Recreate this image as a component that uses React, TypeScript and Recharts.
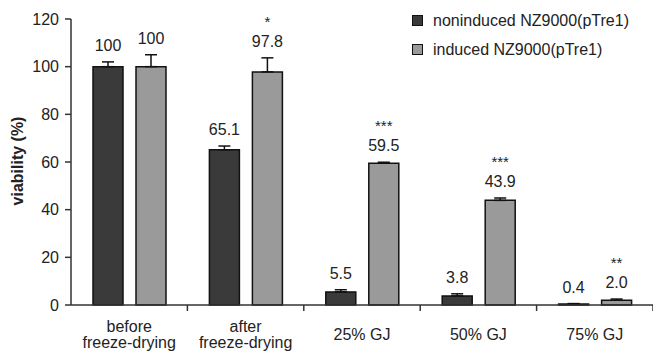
import React from "react";
import { Bar, BarChart, ErrorBar, XAxis, YAxis } from "recharts";

const categories = [
  ["before", "freeze-drying"],
  ["after", "freeze-drying"],
  ["25% GJ"],
  ["50% GJ"],
  ["75% GJ"],
];
const noninduced = [100, 65.1, 5.5, 3.8, 0.4];
const induced = [100, 97.8, 59.5, 43.9, 2.0];
const noninducedErr = [2, 1.6, 0.9, 0.9, 0.2];
const inducedErr = [5, 5.9, 0.4, 1, 0.5];
const inducedStars = ["", "*", "***", "***", "**"];
const yTicks = [0, 20, 40, 60, 80, 100, 120];
const seriesNames = ["noninduced NZ9000(pTre1)", "induced NZ9000(pTre1)"];

const DARK = "#3a3a3a";
const GREY = "#9a9a9a";
const FONT = "Arial, 'Liberation Sans', sans-serif";

const data = categories.map((c, i) => ({
  name: c.join(" "),
  lines: c,
  non: noninduced[i],
  ind: induced[i],
  nonErr: [0, noninducedErr[i]],
  indErr: [0, inducedErr[i]],
}));

function fmt(v: number) {
  return v === 100 ? "100" : v.toFixed(1);
}

function makeLabel(errs: number[], stars: string[] | null) {
  return (props: any) => {
    const { x, y, width, height, value, index } = props;
    const scale = value > 0 ? height / value : 2.38;
    const top = y - errs[index] * scale;
    const cx = x + width / 2;
    return (
      <g>
        <text x={cx} y={top - 11} textAnchor="middle" fontSize={16} fill="#222" fontFamily={FONT}>
          {fmt(value)}
        </text>
        {stars && stars[index] ? (
          <text x={cx} y={top - 31} textAnchor="middle" fontSize={15} fill="#222" fontFamily={FONT}>
            {stars[index]}
          </text>
        ) : null}
      </g>
    );
  };
}

function XTick(props: any) {
  const { x, y, payload } = props;
  const half = payload.offset || 58.2;
  const lines: string[] = data[payload.index]?.lines ?? [payload.value];
  return (
    <g>
      <line x1={x + half} x2={x + half} y1={y} y2={y + 6} stroke="#333" strokeWidth={1.5} />
      {lines.length === 2 ? (
        <>
          <text x={x} y={y + 27} textAnchor="middle" fontSize={16} fill="#222" fontFamily={FONT}>
            {lines[0]}
          </text>
          <text x={x} y={y + 43} textAnchor="middle" fontSize={16} fill="#222" fontFamily={FONT}>
            {lines[1]}
          </text>
        </>
      ) : (
        <text x={x} y={y + 35} textAnchor="middle" fontSize={16} fill="#222" fontFamily={FONT}>
          {lines[0]}
        </text>
      )}
    </g>
  );
}

function YLabel() {
  return (
    <text
      x={0}
      y={0}
      transform="translate(23 161) rotate(-90)"
      textAnchor="middle"
      fontSize={16}
      fontWeight="bold"
      fill="#222"
      fontFamily={FONT}
    >
      viability (%)
    </text>
  );
}

function LegendBox() {
  const colors = [DARK, GREY];
  return (
    <div
      style={{
        position: "absolute",
        left: 412,
        top: 6,
        fontFamily: FONT,
        fontSize: 16,
        color: "#222",
      }}
    >
      {seriesNames.map((label, i) => (
        <div key={label} style={{ display: "flex", alignItems: "center", height: 29 }}>
          <span
            style={{
              display: "inline-block",
              width: 9,
              height: 9,
              background: colors[i],
              border: "1px solid #111",
              marginRight: 10,
            }}
          />
          {label}
        </div>
      ))}
    </div>
  );
}

export default function App() {
  return (
    <div style={{ position: "absolute", left: 0, top: 0, width: 653, height: 352, background: "#fff" }}>
      <BarChart
        width={653}
        height={352}
        data={data}
        margin={{ top: 19, right: 0, bottom: 0, left: 0 }}
        barSize={30}
        barGap={13}
      >
        <XAxis
          dataKey="name"
          height={47}
          tick={<XTick />}
          tickLine={false}
          tickSize={0}
          tickMargin={0}
          interval={0}
          axisLine={{ stroke: "#333", strokeWidth: 1.5 }}
        />
        <YAxis
          width={71}
          domain={[0, 120]}
          ticks={yTicks}
          tickSize={6}
          tickMargin={6}
          tick={{ fill: "#222", fontSize: 16, fontFamily: FONT }}
          tickLine={{ stroke: "#333", strokeWidth: 1.5 }}
          axisLine={{ stroke: "#333", strokeWidth: 1.5 }}
          label={<YLabel />}
        />
        <Bar
          dataKey="non"
          name={seriesNames[0]}
          fill={DARK}
          stroke="#111"
          strokeWidth={1.5}
          isAnimationActive={false}
          label={makeLabel(noninducedErr, null)}
        >
          <ErrorBar dataKey="nonErr" width={6} stroke="#111" strokeWidth={1.5} />
        </Bar>
        <Bar
          dataKey="ind"
          name={seriesNames[1]}
          fill={GREY}
          stroke="#111"
          strokeWidth={1.5}
          isAnimationActive={false}
          label={makeLabel(inducedErr, inducedStars)}
        >
          <ErrorBar dataKey="indErr" width={6} stroke="#111" strokeWidth={1.5} />
        </Bar>
      </BarChart>
      <LegendBox />
    </div>
  );
}
